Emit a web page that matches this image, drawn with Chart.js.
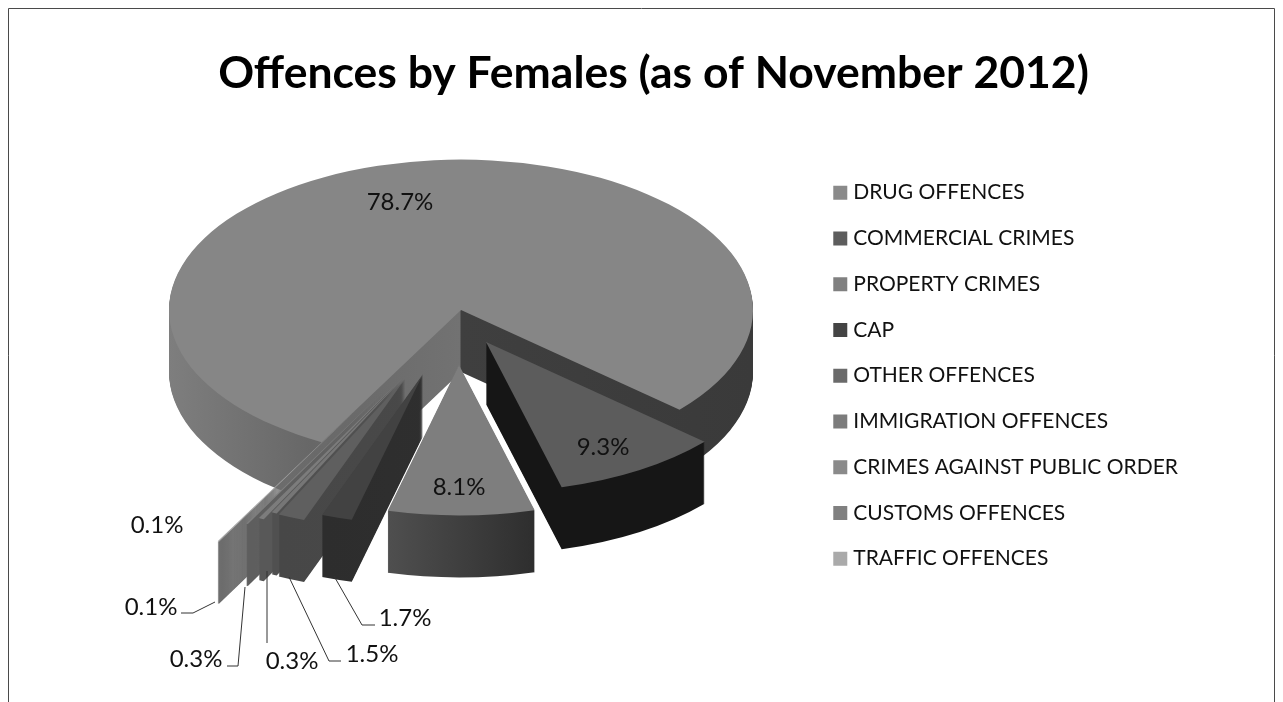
<!DOCTYPE html>
<html><head><meta charset="utf-8">
<style>html,body{margin:0;padding:0;background:#fff}canvas{display:block}</style>
<script src="https://cdn.jsdelivr.net/npm/chart.js@4"></script>
</head><body><canvas id="c" width="1283" height="702"></canvas>
<script>
const TITLE = 'Offences by Females (as of November 2012)';
const categories = ['DRUG OFFENCES','COMMERCIAL CRIMES','PROPERTY CRIMES','CAP','OTHER OFFENCES','IMMIGRATION OFFENCES','CRIMES AGAINST PUBLIC ORDER','CUSTOMS OFFENCES','TRAFFIC OFFENCES'];
const shares = [78.7,9.3,8.1,1.7,1.5,0.3,0.3,0.1,0.1];
const topColors = ['#868686','#5c5c5c','#7e7e7e','#424242','#5f5f5f','#767676','#7c7c7c','#7e7e7e','#a6a6a6'];
const legendColors = ['#8a8a8a','#5d5d5d','#808080','#444444','#6a6a6a','#7c7c7c','#8a8a8a','#808080','#aaaaaa'];
// 3D presentation of the pie
const wallStops = [
  [[-292,'#7e7e7e'],[-150,'#676767'],[-1,'#727272'],[0,'#3f3f3f'],[292,'#3a3a3a']],
  [[-292,'#161616'],[292,'#161616']],
  [[-76,'#505050'],[76,'#2e2e2e']],
  [[-292,'#2a2a2a'],[292,'#333333']],
  [[-292,'#454545'],[292,'#4c4c4c']],
  [[-292,'#505050'],[292,'#505050']],
  [[-292,'#585858'],[292,'#585858']],
  [[-292,'#5e5e5e'],[292,'#5e5e5e']],
  [[-292,'#6c6c6c'],[292,'#6c6c6c']]
];
const shiftX = [0,25,-2,-38,-56,-58,-66,-77,-104];
const shiftY = [0,32,55,64,69,68,75,81,99];
const drawOrder = [0,8,7,6,5,4,3,1,2];
const CENTER_X = 461, CENTER_Y = 310, SQUASH = 0.515, DEPTH = 62, RADIUS = 292, ROTATION = 208.5;
const labelX = [400,603,459,405,372,292,196,151,157];
const labelY = [202,447,487,618,654,661,659,607,525];
const leaders = [null,null,null,
  [[375,625],[362,625],[334,576]],
  [[341,661],[329,661],[289,577]],
  [[267,643],[267,571]],
  [[227,666],[238,666],[245,587]],
  [[181,613],[193,613],[215,602]],
  null];

const pie3d = {
  id:'pie3d',
  beforeDraw(chart){
    const c = chart.ctx; c.save();
    c.fillStyle='#fff'; c.fillRect(0,0,1283,702);
    c.strokeStyle='#4a4a4a'; c.lineWidth=1;
    c.beginPath(); c.moveTo(8.5,702); c.lineTo(8.5,8.5); c.lineTo(1274.5,8.5); c.lineTo(1274.5,702); c.stroke();
    c.restore();
  },
  beforeDatasetsDraw(chart){
    const c = chart.ctx, meta = chart.getDatasetMeta(0);
    const sector = (el,i,dy,fill)=>{
      const p = el.getProps(['x','y','startAngle','endAngle','outerRadius'],true);
      c.save();
      c.translate(CENTER_X+shiftX[i], CENTER_Y+shiftY[i]+dy);
      c.scale(1,SQUASH);
      c.beginPath(); c.moveTo(0,0);
      c.arc(0,0,p.outerRadius,p.startAngle,p.endAngle);
      c.closePath();
      c.fillStyle = fill; c.fill();
      c.restore();
    };
    drawOrder.forEach(i=>{
      const el = meta.data[i];
      const g = c.createLinearGradient(-292,0,292,0);
      wallStops[i].forEach(s=>g.addColorStop((s[0]+292)/584,s[1]));
      for(let d=DEPTH;d>=1;d--) sector(el,i,d,g);
      sector(el,i,0,topColors[i]);
    });
    c.save();
    c.strokeStyle='#333'; c.lineWidth=1;
    leaders.forEach(l=>{ if(!l) return;
      c.beginPath(); l.forEach((q,k)=>k?c.lineTo(q[0],q[1]):c.moveTo(q[0],q[1])); c.stroke(); });
    c.fillStyle='#111'; c.font='24px Lato'; c.textAlign='center'; c.textBaseline='middle';
    shares.forEach((v,i)=>c.fillText(v.toFixed(1)+'%',labelX[i],labelY[i]));
    c.restore();
    return false;
  }
};

new Chart(document.getElementById('c'),{
  type:'pie',
  data:{labels:categories,datasets:[{data:shares,backgroundColor:legendColors,borderWidth:0,radius:RADIUS}]},
  plugins:[pie3d],
  options:{
    responsive:false,animation:false,rotation:ROTATION,
    layout:{padding:{left:119,right:95,top:0,bottom:0}},
    plugins:{
      tooltip:{enabled:false},
      title:{display:true,text:TITLE,color:'#000',font:{family:'Lato',size:44.5,weight:'bold',lineHeight:1.2},padding:{top:47,bottom:57}},
      legend:{position:'right',align:'start',fullSize:false,labels:{usePointStyle:true,pointStyle:'rect',boxWidth:5,boxHeight:14,padding:24.75,color:'#111',font:{family:'Lato',size:21}}}
    }
  }
});
</script></body></html>
